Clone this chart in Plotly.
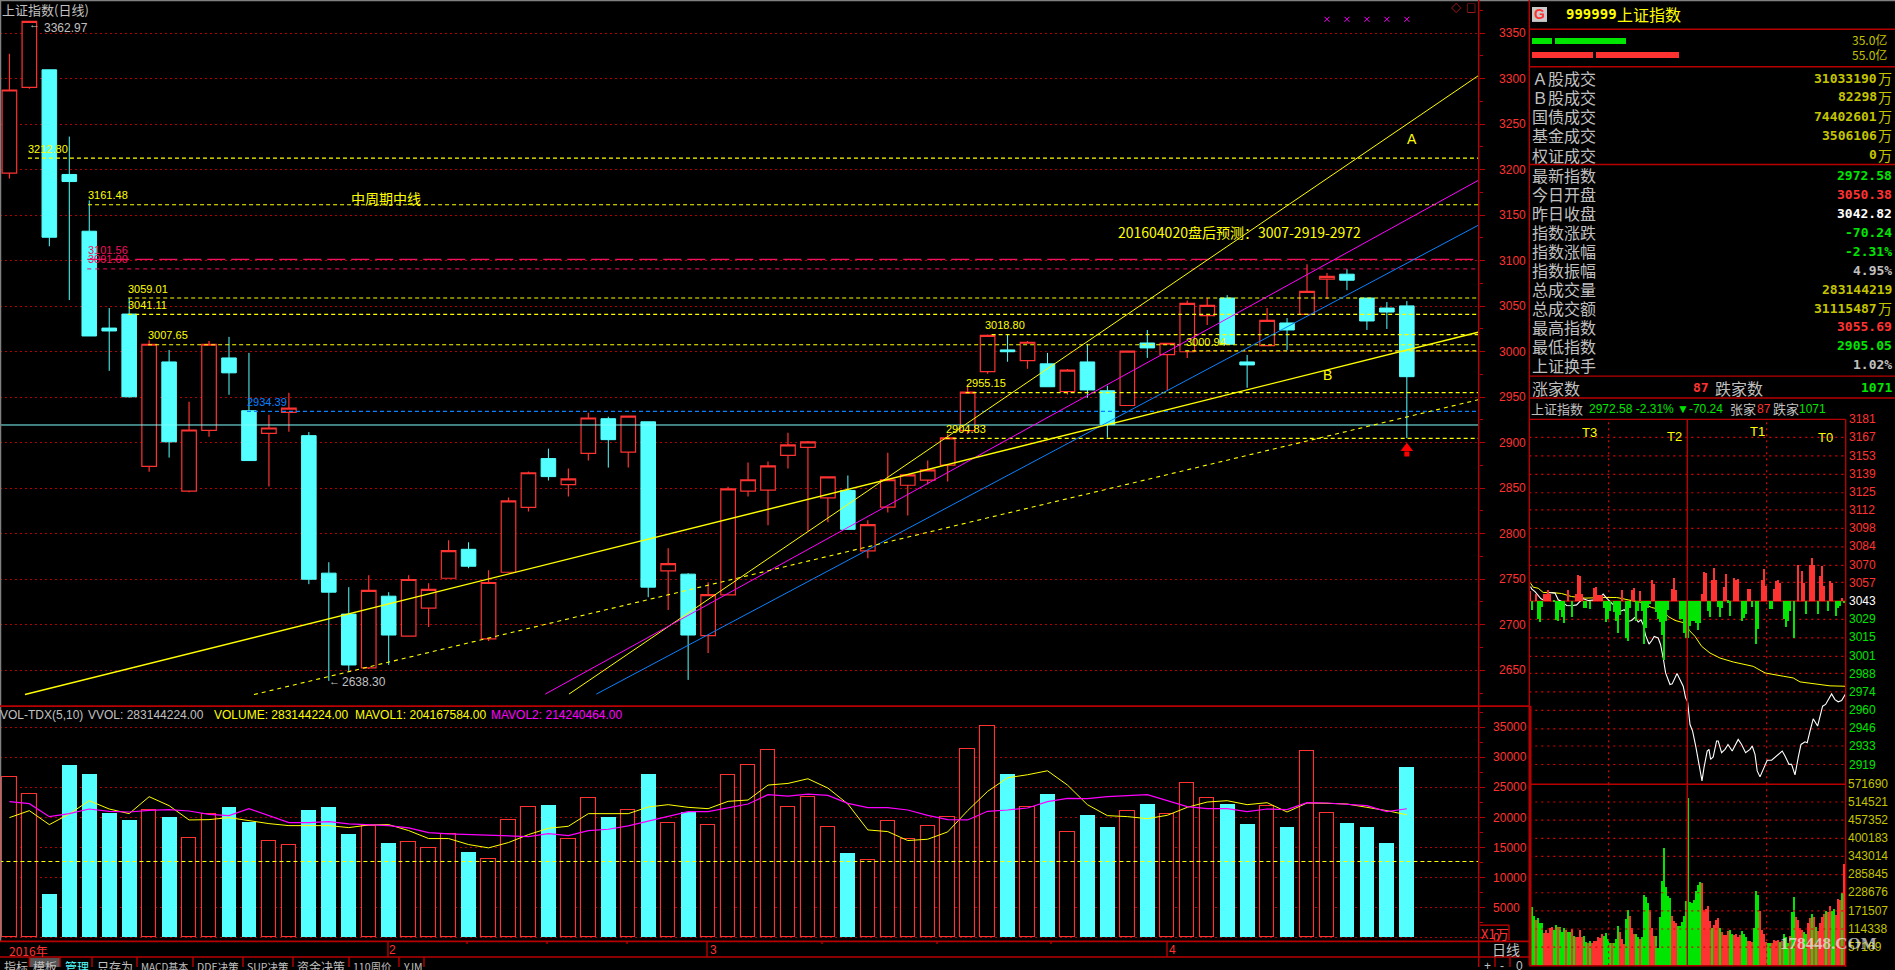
import plotly.graph_objects as go

W, H = 1895, 970

# ---------- daily candles ----------
candle_open = [3196.2,3290.4,3309.8,3194.8,3132.4,3026,3041.4,2874.1,2988.8,2846.8,2913.6,2993.2,2935.2,2910.3,2933.3,
 2907.8,2756.7,2711.7,2652.6,2731.4,2687.6,2718.3,2751.1,2782.9,2684.5,2757.7,2828.9,2882.6,2854,2888.4,
 2926.4,2889.6,2923,2759.1,2755.6,2688,2732.8,2846.8,2847.9,2886.2,2895,2839.5,2847.6,2781.1,2829.3,
 2853.3,2859,2875.3,2913.3,2978.2,3002,2990.2,2986.7,2956.3,2988.8,2957.1,2940.9,3009.6,2996.8,3000,
 3039.6,3059,2988.8,3006.7,3031.6,3041,3079.8,3085.2,3059,3048,3050.38]
candle_close = [3287.6,3362.9,3125.8,3187,3017.3,3022.8,2950.5,3008.2,2901,2914,3008.2,2976.8,2880.4,2916.2,2938.1,
 2750,2735.8,2655.8,2737.7,2688.7,2749.7,2738.8,2781.5,2764.3,2746.4,2836.2,2867,2862.8,2860.3,2927.2,
 2903.4,2929.3,2741.3,2767.2,2688.7,2733.2,2849.4,2859.3,2874.6,2897.6,2900.9,2862.5,2804.8,2810,2859.3,
 2864.7,2870.2,2905.3,2955.6,3018,3000,3010.4,2961.5,2979.8,2958,2919.9,3000.6,3004.2,3009.3,3053.1,
 3050.9,3008.2,2985.5,3034.5,3023.9,3066.3,3082.7,3078.6,3033.8,3043.6,2972.58]
candle_high = [3327.3,3362.97,3309.8,3236.4,3166.3,3048,3059,3012.6,3002,2945,3011.8,3016.3,2998.7,2930.8,2954.9,
 2911.8,2768.7,2741.3,2754.4,2735.8,2754.4,2745.7,2792.8,2790.6,2759.9,2839.9,2868.3,2893.5,2871.6,2933,
 2928.6,2929.3,2923,2784,2756.7,2746.8,2851.6,2878.2,2879.3,2911.1,2902,2862.5,2864,2814.7,2889.1,
 2864.7,2880.4,2910,2963.7,3018.8,3018.8,3011.8,2998.7,2980.9,3008.6,2962.6,3000.6,3023.9,3009.3,3056.4,
 3059,3062.2,2996.5,3048,3037,3096.2,3086.4,3090.8,3059,3054.6,3055.69]
candle_low = [3190.4,3289,3115.9,3056.8,3017.3,2979,2949.5,2868,2883.7,2845.7,2906.7,2952.7,2880.4,2851.9,2912.2,
 2744.6,2638.3,2648.2,2651.5,2655.8,2687.6,2697.5,2751.1,2762.1,2682.2,2757.7,2824.5,2858.5,2841,2880.4,
 2872.7,2872.7,2730.3,2716.2,2639.4,2669,2732.8,2841,2809.2,2871.6,2802.6,2812.5,2804.8,2773.1,2823.4,
 2820.1,2854,2857.4,2909.6,2975.7,2989,2981.2,2961.5,2953,2949.4,2905.6,2940.9,2993.2,2957.1,2993.2,
 3029.3,3008.2,2960.4,3006.7,3002,3041,3057.9,3067.7,3023.9,3025,2905.05]

# ---------- daily volume, in units of 10 000 (X1万) ----------
volume = [26741,23923,7238,28620,27128,20774,19503,21271,20000,16465,20608,21658,19172,15967,15304,
 21161,21658,17183,18619,15691,15802,14807,17183,14199,12984,19614,21769,21990,16299,23260,
 20000,21271,27128,19117,20829,18785,27073,28730,31216,21769,23426,18288,14034,12818,19448,
 16299,18619,20111,31382,35194,27128,21769,23813,17459,20332,18343,21106,22155,20608,25746,
 23260,22155,18840,21934,18343,31050,20774,19006,18343,15691,28288]
mavol1 = [19945,21106,18785,20553,22763,21382,20608,23426,21934,19559,19614,19945,19448,18951,18619,
 18619,18619,18288,18730,18785,17791,16465,16465,15470,14918,15802,17128,18177,18509,20608,
 20608,20608,21713,22100,21658,21437,22653,22874,25360,25636,26410,24863,22211,17901,17625,
 16133,16354,17570,21106,24310,26575,27073,27736,25360,22100,20277,20111,19780,20332,21658,
 22542,22763,22100,22432,20885,22376,22321,22211,21658,21106,20417]
mavol2 = [22597,22266,20111,20608,21382,20995,20885,21161,21271,21050,20498,20277,21437,20277,19117,
 19117,19282,18896,18730,18619,18233,17459,17238,17128,16962,16796,16796,17293,16962,17791,
 18012,18564,19393,20111,20940,20940,21548,22211,23758,23537,23868,23647,22321,21603,21603,
 21216,20332,19614,19559,20995,21216,21548,22597,23150,23095,23426,23592,23758,22763,21769,
 21437,21437,20940,21382,21271,22432,22376,22211,21934,20940,21424]
vol_reference_level = 12652

# ---------- trend lines: pairs of (candle index, price) ----------
trend_a_x, trend_a_y = [28.03,73.57], [2623.8,3303.2]
trend_magenta_x, trend_magenta_y = [26.84,73.57], [2623.8,3188.2]
trend_blue_x, trend_blue_y = [29.4,73.57], [2623.8,3138.9]
trend_b_x, trend_b_y = [0.78,73.57], [2623.3,3021.4]
trend_low_x, trend_low_y = [12.25,73.57], [2623.3,2947.2]

# ---------- horizontal price levels: price, first candle index ----------
yellow_levels = [3212.80,3161.48,3059.01,3041.11,3018.80,3007.65,3000.94,2955.15,2904.83]
yellow_starts = [0.93,3.94,5.95,5.95,49.2,6.95,58.9,47.9,46.9]
magenta_long_level, magenta_short_level = 3101.56, 3091.00
blue_level, cyan_level = 2934.39, 2919.5
x_marks_idx = [66,67,68,69,70]
x_marks_price = [3365.3]*5
arrow_idx, arrow_head_price, arrow_stem_price = [70], [2894.0], [2887.5]

# ---------- intraday ----------
iv_k = [0,0.5,2.2,3.8,5.2,6.3,8.8,12.2,13.8,15.5,18,20.5,23,24.7,26.3,28.8,32.2,34.7,36.3,38,39.7,41.3,43,44.7,46.8,48,48.8,
 50.5,52.2,53.8,55.2,56.3,57.5,59.2,60.5,61.8,63.8,65,66.3,67.5,69.7,70.8,73.2,74.7,76.3,77.5,78.5,79.7,81,82.7,84.3,85.7,86.7,
 88.3,89.2,90,91.3,93,93.8,95.5,97.2,98.7,100.8,103.8,105.5,107.5,109.7,110.8,112.2,113.3,114.7,116.7,118.3,120.5,123.8,125.8,
 127.2,129.2,130.5,132.2,133.8,135.2,137.2,138.3,139.7,141.3,143.5,146,147.5,150.5,152.2,153.8,155.5,157.5]
iv_price = [3053.9,3052.1,3050.1,3047.6,3044.6,3043.8,3049.4,3048.9,3043.8,3042.6,3039.5,3039.3,3040,3042.6,3044.6,3043.3,3043.8,
 3045.6,3048.1,3045.1,3042.6,3040,3037.5,3035,3036.3,3033.8,3027.5,3028.2,3030.5,3027,3028.7,3024.9,3016.9,3010.3,3012.8,3016.1,
 3014.9,3009.8,2999.7,2988.4,2979.6,2980.1,2987.9,2983.4,2978.3,2969.5,2966.5,2949.3,2944.3,2931.7,2917.9,2906.5,2916.6,2929.2,
 2930.5,2922.9,2924.7,2936.8,2936.8,2927.9,2930.5,2934.2,2929.2,2938,2934.2,2927.9,2930.5,2933,2926.7,2914.1,2909.6,2916.6,2922.2,
 2922.2,2926.7,2929.2,2925.5,2919.1,2919.1,2911.1,2924.2,2934.2,2936.2,2935.5,2944.3,2953.6,2948.1,2963.2,2964.5,2972.5,2968.2,
 2966.5,2967.5,2972.58]
iv_avg_k = [0,1.3,3.8,6.3,10.5,15.5,20.5,27.2,37.2,43,48.8,55.5,60.5,65.5,68.8,72.2,77.2,78.3,79.3,82.2,85.5,89.7,94.7,101.3,
 111.3,117.2,126.3,131.3,134.7,141.3,149.7,157.5]
iv_avg = [3056.4,3053.4,3052.6,3049.4,3049.4,3048.6,3046.3,3045.1,3045.6,3045.6,3043.8,3041.8,3038,3036.3,3031.2,3028.2,3026.2,
 3024.2,3020.7,3016.1,3008.6,3003.5,2999.7,2996.7,2993.4,2988.4,2985.9,2984.6,2981.6,2980.3,2978.6,2978.3]
breadth = [29,-29,0,21,-56,-63,-19,21,19,32,19,0,-3,-59,-61,-29,-49,-68,0,32,0,-49,0,19,77,74,21,-21,-21,0,-26,0,39,41,17,17,17,
 -23,-65,-56,-31,0,-33,-61,-96,-43,33,0,-111,-121,-23,33,37,-61,-31,29,-31,-129,-81,-21,-9,64,51,-33,-56,-63,-104,-179,-61,-29,
 0,34,69,32,0,-56,-56,-96,-113,
 -113,-75,-60,-60,-66,-89,-66,21,87,84,-31,-49,64,99,64,-19,-48,-21,41,81,-6,-46,0,69,64,67,0,-61,-53,-41,34,36,-19,0,-131,-86,0,
 64,96,44,0,-26,-26,34,59,64,54,0,-56,-79,-61,-30,0,-111,0,109,0,89,54,-39,0,109,129,109,0,-39,74,104,44,0,-31,61,54,0,-46,-21,
 -15,9,-8,0]
iv_vol = [384,183,154,141,149,131,133,102,110,102,116,120,110,127,120,120,105,116,110,105,103,114,92,87,87,111,87,92,73,68,77,68,
 76,76,89,86,97,90,102,82,71,68,70,83,122,105,83,65,146,173,155,116,98,98,87,82,89,221,215,194,173,116,92,92,55,152,265,369,246,
 217,211,155,138,133,124,122,136,155,202,
 526,199,194,204,233,251,262,257,173,178,186,139,118,126,143,147,118,105,94,94,108,110,99,94,99,87,94,108,99,89,76,76,73,118,233,
 220,171,110,99,73,68,70,68,79,76,79,73,76,99,89,68,91,168,215,152,141,118,110,105,99,133,147,162,150,120,108,133,150,162,171,168,
 185,169,176,157,207,204,227,317,361]
iv_vol_colors = ("r" "gg" "r" "ggg" "rrrrr" "gg" "r" "ggg" "r" "gg" "r" "g" "rrrr" "gg" "r" "g" "rrrrrr" "gggg" "r" "ggg" "rrr"
                 "gg" "rrr" "gg" "r" "gggg" "rrr" "gggggggg" "rrr" "ggggg"
                 "ggggggg" "rrrrr" "g" "rrr" "g" "rrrr" "gg" "rrrr" "ggg" "rrr" "ggg" "rrrr" "gg" "rrrr" "g" "r" "ggg" "r"
                 "gg" "rrrr" "gg" "rr" "g" "r" "g" "rrrr" "g" "rr" "gg" "rrr" "g" "rr")
iv_labels_up = ["3181","3167","3153","3139","3125","3112","3098","3084","3070","3057"]
iv_label_mid = "3043"
iv_labels_dn = ["3029","3015","3001","2988","2974","2960","2946","2933","2919"]
ivv_labels = ["571690","514521","457352","400183","343014","285845","228676","171507","114338","57169"]
iv_price_levels = [3167,3153,3139,3125,3112,3098,3084,3070,3057,3029,3015,3001,2988,2974,2960,2946,2933,2919]
iv_vol_levels = [57.169,114.338,171.507,228.676,285.845,343.014,400.183,457.352,514.521]
iv_session_marks = [39,118]
iv_prev_close = 3042.82

# order-flow strips (亿)
buy_base, buy_len = [0,8.6], [7.5,26.4]
sell_base, sell_len = [0,23.9], [22.8,31.2]

# ---------- stat table ----------
rows_top = ["Ａ股成交","Ｂ股成交","国债成交","基金成交","权证成交"]
rows_top_val = ["31033190","82298","74402601","3506106","0"]
rows_main = ["最新指数","今日开盘","昨日收盘","指数涨跌","指数涨幅","指数振幅","总成交量","总成交额","最高指数","最低指数","上证换手"]
rows_main_val = ["2972.58","3050.38","3042.82","-70.24","-2.31%","4.95%","283144219","31115487","3055.69","2905.05","1.02%"]

# ---------- colours ----------
RED = "#ff3232"; CYAN = "#54ffff"; GRID = "#b00000"; AXIS = "#b80000"; IVGRID = "#e00000"
YEL = "#ffff00"; MAG = "#ff00ff"; BLUE = "#0a82ff"; ROSE = "#f0105f"
GRAY = "#c0c0c0"; OLIVE = "#c4c400"; GREEN = "#00e600"; BRED = "#ff3232"
SANS = "Liberation Sans"; CJK = "Noto Sans CJK SC"; MONO = "DejaVu Sans Mono"
DOT = "2px,3px"

def dx(a, b): return [a/W, b/W]
def dy(top, bot): return [1-bot/H, 1-top/H]

fig = go.Figure()
up = [c >= o for o, c in zip(candle_open, candle_close)]
idx = list(range(len(candle_open)))

# main panel
fig.add_trace(go.Candlestick(x=idx, open=candle_open, high=candle_high, low=candle_low, close=candle_close,
    whiskerwidth=0, xaxis="x", yaxis="y",
    increasing=dict(line=dict(color=RED, width=1.2), fillcolor="#000000"),
    decreasing=dict(line=dict(color=CYAN, width=1), fillcolor=CYAN)))

def line(x, y, color, width=1, dash="solid", xa="x", ya="y"):
    fig.add_trace(go.Scatter(x=x, y=y, mode="lines", xaxis=xa, yaxis=ya,
        line=dict(color=color, width=width, dash=dash), hoverinfo="skip"))

END = 73.57
line([-0.5, END], [cyan_level]*2, "#7fffff", 1)
for lv, st in zip(yellow_levels, yellow_starts):
    line([st, END], [lv, lv], YEL, 1.2, "4px,3px")
line([3.9, END], [magenta_long_level]*2, ROSE, 1.2, "18px,6px")
line([3.9, END], [magenta_short_level]*2, ROSE, 1, "4px,4px")
line([11.9, END], [blue_level]*2, BLUE, 1.2, "4px,3px")
line(trend_a_x, trend_a_y, YEL, 1)
line(trend_magenta_x, trend_magenta_y, MAG, 1)
line(trend_blue_x, trend_blue_y, BLUE, 1)
line(trend_b_x, trend_b_y, YEL, 1.4)
line(trend_low_x, trend_low_y, YEL, 1.1, "4px,4px")
fig.add_trace(go.Scatter(x=x_marks_idx, y=x_marks_price, mode="markers", xaxis="x", yaxis="y",
    marker=dict(symbol="x-thin", size=5, line=dict(color=MAG, width=1))))
fig.add_trace(go.Scatter(x=arrow_idx, y=arrow_head_price, mode="markers", xaxis="x", yaxis="y",
    marker=dict(symbol="triangle-up", size=11, color="#ff0000", line=dict(width=0))))
fig.add_trace(go.Scatter(x=arrow_idx, y=arrow_stem_price, mode="markers", xaxis="x", yaxis="y",
    marker=dict(symbol="square", size=5, color="#ff0000", line=dict(width=0))))

# volume panel
fig.add_trace(go.Bar(x=[i for i in idx if up[i]], y=[volume[i] for i in idx if up[i]], width=0.72,
    xaxis="x2", yaxis="y2", marker=dict(color="#000000", line=dict(color=RED, width=1.1))))
fig.add_trace(go.Bar(x=[i for i in idx if not up[i]], y=[volume[i] for i in idx if not up[i]], width=0.74,
    xaxis="x2", yaxis="y2", marker=dict(color=CYAN, line=dict(width=0))))
line(idx, mavol1, YEL, 1, xa="x2", ya="y2")
line(idx, mavol2, MAG, 1.2, xa="x2", ya="y2")
line([-0.5, END], [vol_reference_level]*2, YEL, 1.2, "4px,3px", "x2", "y2")

# intraday price panel
ks = list(range(len(breadth)))
fig.add_trace(go.Bar(x=ks, y=[max(v, 0) for v in breadth], width=1, xaxis="x3", yaxis="y4",
    marker=dict(color=RED, line=dict(width=0))))
fig.add_trace(go.Bar(x=ks, y=[min(v, 0) for v in breadth], width=1, xaxis="x3", yaxis="y4",
    marker=dict(color=GREEN, line=dict(width=0))))
for lv in iv_price_levels:
    line([-0.65, 157.5], [lv, lv], IVGRID, 1.2, "2px,4px", "x3", "y3")
for k in iv_session_marks:
    line([k, k], [2904.0, 3180.6], IVGRID, 1.2, "2px,4px", "x3", "y3")
line([-0.65, 157.5], [iv_prev_close]*2, "#d00000", 1.4, "solid", "x3", "y3")
line(iv_avg_k, iv_avg, YEL, 1, xa="x3", ya="y3")
line(iv_k, iv_price, "#ffffff", 1.1, xa="x3", ya="y3")

# intraday volume panel
vk = list(range(len(iv_vol)))
fig.add_trace(go.Bar(x=vk, y=iv_vol, width=1, xaxis="x5", yaxis="y5",
    marker=dict(color=[RED if iv_vol_colors[i] == "r" else GREEN for i in vk], line=dict(width=0))))
for lv in iv_vol_levels:
    line([-0.65, 157.5], [lv, lv], IVGRID, 1.2, "2px,4px", "x5", "y5")
for k in iv_session_marks:
    line([k, k], [0, 570.4], IVGRID, 1.2, "2px,4px", "x5", "y5")

# order-flow strips
fig.add_trace(go.Bar(y=[1, 1], x=buy_len, base=buy_base, orientation="h", width=0.43, xaxis="x6", yaxis="y6",
    marker=dict(color="#00e600", line=dict(width=0))))
fig.add_trace(go.Bar(y=[0, 0], x=sell_len, base=sell_base, orientation="h", width=0.43, xaxis="x6", yaxis="y6",
    marker=dict(color=RED, line=dict(width=0))))

# ---------- text ----------
ann = []
def T(x, y, s, color=GRAY, size=12, fam=SANS, anchor="left", bold=False):
    if bold: s = "<b>%s</b>" % s
    ann.append(dict(x=x/W, y=1-y/H, xref="paper", yref="paper", text=s, showarrow=False, xanchor=anchor,
        yanchor="middle", borderpad=0, borderwidth=0, align=anchor, font=dict(color=color, size=size, family=fam)))

T(2, 10, "上证指数(日线)", GRAY, 13, CJK)
T(44, 28, "3362.97", GRAY, 12); T(29, 24, "←", GRAY, 11)
T(28, 149, "3212.80", YEL, 11); T(88, 196, "3161.48", YEL, 11)
T(88, 251, "3101.56", ROSE, 11); T(88, 260, "3091.00", ROSE, 11)
T(128, 290, "3059.01", YEL, 11); T(128, 306, "3041.11", YEL, 11); T(148, 336, "3007.65", YEL, 11)
T(247, 403, "2934.39", BLUE, 11); T(342, 684, "2638.30", GRAY, 12); T(329, 683, "←", GRAY, 11)
T(946, 430, "2904.83", YEL, 11); T(966, 384, "2955.15", YEL, 11)
T(985, 326, "3018.80", YEL, 11); T(1186, 343, "3000.94", YEL, 11)
T(351, 198.5, "中周期中线", YEL, 14, CJK)
T(1118, 233, "201604020盘后预测：3007-2919-2972", YEL, 14, CJK)
T(1407, 139, "A", YEL, 14, SANS); T(1323, 376, "B", YEL, 14, SANS)
T(1451, 8, "◇", RED, 10, CJK); T(1466, 8, "□", RED, 10, CJK)

T(0, 717, "VOL-TDX(5,10)", GRAY, 12); T(88, 717, "VVOL: 283144224.00", GRAY, 12)
T(214, 717, "VOLUME: 283144224.00", YEL, 12); T(355, 717, "MAVOL1: 204167584.00", YEL, 12)
T(491, 717, "MAVOL2: 214240464.00", MAG, 12)

T(9, 953, "2016年", RED, 12, CJK); T(389, 953, "2", RED, 12); T(710, 953, "3", RED, 12); T(1169, 953, "4", RED, 12)
tabs = [(4,"指标",GRAY,12),(33,"模板",GRAY,12),(65,"管理",CYAN,12),(97,"只存为",GRAY,12),(141,"MACD基本",GRAY,10),(197,"DDE决策",GRAY,10.5),
        (247,"SUP决策",GRAY,10.5),(297,"资金决策",GRAY,12),(353,"110周价",GRAY,10.5),(403,"YJM",GRAY,10.5)]
for x, s, c, z in tabs: T(x, 969, s, c, z, CJK)
T(1481, 936, "X1万", RED, 13, CJK); T(1492, 952, "日线", GRAY, 14, CJK)
T(1484, 969, "+", GRAY, 12); T(1500, 969, "-", GRAY, 12); T(1516, 969, "0", GRAY, 12)

T(1539.5, 14.5, "G", RED, 14, SANS, "center", True)
T(1565.5, 14, "999999", YEL, 14, MONO, bold=True); T(1617, 14, "上证指数", YEL, 16, CJK)
T(1887, 40, "35.0亿", OLIVE, 12, CJK, "right"); T(1887, 55, "55.0亿", OLIVE, 12, CJK, "right")

ty = [78.3, 97.3, 116.7, 135.7, 155]
for y, lab, val in zip(ty, rows_top, rows_top_val):
    T(1532, y, lab, GRAY, 16, CJK); T(1877, y, val, OLIVE, 13, MONO, "right", True); T(1892, y, "万", OLIVE, 14, CJK, "right")
my = [176, 195, 214, 233, 252, 271, 290, 309, 328, 347, 366]
mc = [GREEN, BRED, "#ffffff", GREEN, GREEN, GRAY, OLIVE, OLIVE, BRED, GREEN, GRAY]
for y, lab, val, c in zip(my, rows_main, rows_main_val, mc):
    T(1532, y, lab, GRAY, 16, CJK)
    if lab == "总成交额":
        T(1877, y, val, c, 13, MONO, "right", True); T(1892, y, "万", OLIVE, 14, CJK, "right")
    else:
        T(1892, y, val, c, 13, MONO, "right", True)
T(1532, 389, "涨家数", GRAY, 16, CJK); T(1709, 389, "87", BRED, 13, MONO, "right", True)
T(1715, 389, "跌家数", GRAY, 16, CJK); T(1892, 389, "1071", GREEN, 13, MONO, "right", True)
T(1531, 410, "上证指数", GRAY, 13, CJK); T(1589, 410, "2972.58 -2.31% ▼-70.24", GREEN, 12)
T(1730, 410, "张家", GRAY, 13, CJK); T(1757, 410, "87", BRED, 12); T(1773, 410, "跌家", GRAY, 13, CJK); T(1799, 410, "1071", GREEN, 12)
for x, y, s in [(1589, 434, "T3"), (1674, 438, "T2"), (1757, 433, "T1"), (1825, 439, "T0")]:
    T(x, y, s, YEL, 13, SANS, "center")
for i, s in enumerate(iv_labels_up): T(1849, 420.5+18.24*i, s, RED, 12)
T(1849, 602.9, iv_label_mid, "#ffffff", 12)
for i, s in enumerate(iv_labels_dn): T(1849, 621.1+18.24*i, s, GREEN, 12)
for i, s in enumerate(ivv_labels): T(1848, 786+18.2*i, s, OLIVE, 12)
T(1828, 946, "178448.COM", "rgba(235,235,235,0.72)", 17, "Liberation Sans Narrow", "center", True)

# ---------- rules ----------
shp = []
def L(x0, y0, x1, y1, color=AXIS, w=1.4):
    shp.append(dict(type="line", xref="paper", yref="paper", x0=x0/W, x1=x1/W, y0=1-y0/H, y1=1-y1/H,
                    line=dict(color=color, width=w), layer="above"))
L(0, 0.5, W, 0.5, "#808080", 1.5); L(0.5, 0, 0.5, 944, "#808080", 1.5)
L(1478.7, 0, 1478.7, H); L(1529.3, 0, 1529.3, 708); L(1530, 708, 1530, 968, AXIS, 3)
L(0, 708.3, 1529, 708.3, AXIS, 1.6); L(0, 944.3, 1529, 944.3, AXIS, 1.6); L(0, 960, 1529, 960, AXIS, 1.4)
for y in (29.3, 67, 165, 377.3, 399.3): L(1529, y, W, y)
for y in (420.7, 786.7, 968.8): L(1529, y, 1845.7, y)
L(1845.7, 420.7, 1845.7, H); L(1687.3, 420.7, 1687.3, 968)
for x in (388, 707, 1167): L(x, 944, x, 960)
for x in (467, 547, 627, 822, 937, 1051): L(x, 944, x, 947)
for x in (29.5, 60, 92, 137, 193, 243, 293, 349, 399, 424, 1495, 1510): L(x, 960, x, H)
L(1480, 928, 1509, 928); L(1509, 928, 1509, 943)
shp.append(dict(type="rect", xref="paper", yref="paper", x0=1532/W, x1=1547/W, y0=1-22/H, y1=1-7/H,
                fillcolor="#c8c8c8", line=dict(width=0), layer="below"))
shp.append(dict(type="rect", xref="paper", yref="paper", x0=30/W, x1=60/W, y0=0, y1=1-961/H,
                fillcolor="#555555", line=dict(width=0), layer="below"))

grid = dict(showgrid=True, gridcolor=GRID, gridwidth=1, griddash=DOT, zeroline=False)
hidden_x = dict(showticklabels=False, showgrid=False, zeroline=False, ticks="", showline=False, fixedrange=True)
hidden_y = dict(showticklabels=False, showgrid=False, zeroline=False, ticks="", showline=False)

fig.update_layout(
    width=W, height=H, autosize=False, margin=dict(l=0, r=0, t=0, b=0, pad=0),
    paper_bgcolor="#000000", plot_bgcolor="rgba(0,0,0,0)", showlegend=False, hovermode=False,
    barmode="overlay", boxgap=0.27, boxgroupgap=0, bargap=0, annotations=ann, shapes=shp,
    font=dict(family=SANS, size=12, color=RED),
    xaxis=dict(domain=dx(0, 1478.7), range=[-0.471, 73.6], rangeslider=dict(visible=False), **hidden_x),
    yaxis=dict(domain=dy(2, 708.3), range=[2610.6, 3384.3], side="right", tick0=2650, dtick=50, ticks="outside",
        ticklen=5, tickcolor=AXIS, tickfont=dict(color=RED, size=12), ticklabelstandoff=12, showline=False,
        minor=dict(dtick=25, tick0=2650, ticks="outside", ticklen=3, tickcolor=AXIS, showgrid=False), **grid),
    xaxis2=dict(domain=dx(0, 1478.7), range=[-0.471, 73.6], anchor="y2", **hidden_x),
    yaxis2=dict(domain=dy(708.3, 944.3), range=[-630, 38488], side="right", anchor="x2", tick0=5000, dtick=5000,
        tickformat="d", ticks="outside", ticklen=5, tickcolor=AXIS, tickfont=dict(color=RED, size=12), ticklabelstandoff=6,
        minor=dict(dtick=2500, tick0=0, ticks="outside", ticklen=3, tickcolor=AXIS, showgrid=False), **grid),
    xaxis3=dict(domain=dx(1529.3, 1845.7), range=[-0.65, 157.55], anchor="y3", **hidden_x),
    yaxis3=dict(domain=dy(420.7, 786.7), range=[2904.0, 3180.6], anchor="x3", **hidden_y),
    yaxis4=dict(domain=dy(420.7, 786.7), range=[-551, 547], anchor="x3", overlaying="y3", **hidden_y),
    xaxis5=dict(domain=dx(1529.3, 1845.7), range=[-0.65, 157.55], anchor="y5", **hidden_x),
    yaxis5=dict(domain=dy(786.7, 968.3), range=[0, 570.4], anchor="x5", **hidden_y),
    xaxis6=dict(domain=dx(1532, 1832), range=[0, 112.2], anchor="y6", **hidden_x),
    yaxis6=dict(domain=dy(34.5, 62.5), range=[-0.5, 1.5], anchor="x6", **hidden_y),
)

fig.write_html("out.html", config={"displayModeBar": False},
    post_script="document.body.style.margin='0';document.body.style.overflow='hidden';document.body.style.background='#000';")
